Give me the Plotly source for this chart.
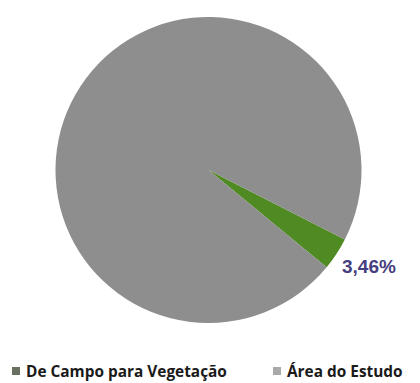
import plotly.graph_objects as go

labels = ["De Campo para Vegetação", "Área do Estudo"]
values = [3.46, 96.54]
colors = ["#4f8a22", "#8e8e8e"]
swatch_colors = ["#687060", "#a9a9a9"]

W, H = 420, 383

fig = go.Figure(
    go.Pie(
        labels=labels,
        values=values,
        sort=False,
        direction="clockwise",
        rotation=117,
        marker=dict(colors=colors, line=dict(width=0)),
        textinfo="none",
        hoverinfo="label+percent",
        showlegend=False,
        domain=dict(x=[55.5 / W, 361.5 / W], y=[1 - 323 / H, 1 - 17 / H]),
    )
)

# percentage label of the small slice
pct = values[0] / sum(values) * 100
fig.add_annotation(
    x=369 / W, y=1 - 266 / H, xref="paper", yref="paper",
    xanchor="center", yanchor="middle",
    text=f"<b>{pct:.2f}%</b>".replace(".", ","),
    showarrow=False, font=dict(family="Liberation Sans", size=19, color="#463e80"),
)

# legend row: small square swatch followed by bold label
legend_x = [12, 273]
legend_y = 371
for lx, lab, sc in zip(legend_x, labels, swatch_colors):
    fig.add_shape(
        type="rect", xref="paper", yref="paper",
        x0=lx / W, x1=(lx + 8) / W,
        y0=1 - (legend_y + 4) / H, y1=1 - (legend_y - 4) / H,
        fillcolor=sc, line=dict(width=0),
    )
    fig.add_annotation(
        x=(lx + 12) / W, y=1 - legend_y / H, xref="paper", yref="paper",
        xanchor="left", yanchor="middle", showarrow=False,
        text=f"<b>{lab}</b>",
        font=dict(family="Open Sans", size=15.4, color="#1a1a1a"),
    )

fig.update_layout(
    width=W, height=H,
    margin=dict(l=0, r=0, t=0, b=0, autoexpand=False),
    paper_bgcolor="white",
    plot_bgcolor="white",
    showlegend=False,
)

fig.write_html("out.html")
